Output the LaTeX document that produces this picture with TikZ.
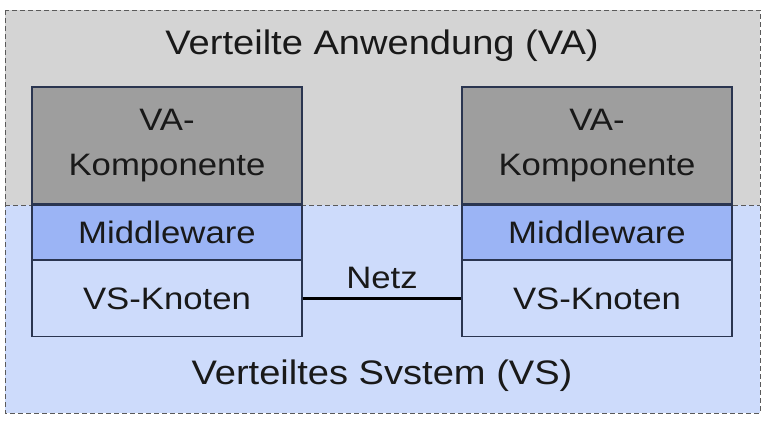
\documentclass[tikz,border=0pt]{standalone}
\usepackage{fontspec}
\setmainfont{Liberation Sans}[FakeStretch=1.12]
\usetikzlibrary{positioning}
\definecolor{vagray}{HTML}{D4D4D4}
\definecolor{compgray}{HTML}{9E9E9E}
\definecolor{mwblue}{HTML}{9BB4F5}
\definecolor{vsblue}{HTML}{CDDBFB}
\definecolor{edgeblue}{HTML}{2A3550}
\definecolor{dashgray}{HTML}{5A5A5A}
\begin{document}
\begin{tikzpicture}[
            x=1pt, y=-1pt,
            every node/.style={font=\fontsize{31}{45}\selectfont, text=black!90},
            layer/.style={draw=edgeblue, line width=1.3pt, minimum width=270pt, inner sep=0pt, align=center},
            comp/.style={layer, fill=compgray, minimum height=117pt},
            mware/.style={layer, fill=mwblue, minimum height=54pt},
            knoten/.style={layer, fill=vsblue, minimum height=76pt},
            region/.style={draw=dashgray, dash pattern=on 5pt off 3pt, line width=0.9pt},
            titel/.style={font=\fontsize{34}{40}\selectfont}
            ]
            \useasboundingbox (0,0) rectangle (771,426);
            % Bereiche
            \fill[vagray] (5,10) rectangle (760,205);
            \fill[vsblue] (5,205) rectangle (760,413);
            \draw[region] (5,10) rectangle (760,413);
            \draw[region] (5,205) -- (760,205);

            \node[titel] (vatitle) at (382,46) {Verteilte Anwendung (VA)};
            \node[titel] (vstitle) at (382,376) {Verteiltes Svstem (VS)};

            % linker Knoten
            \node[comp] (compleft) at (167,145.5) {VA-\\Komponente};
            \node[mware, below=0pt of compleft] (mwleft) {Middleware};
            \node[knoten, below=0pt of mwleft] (knleft) {VS-Knoten};

            % rechter Knoten
            \node[comp] (compright) at (597,145.5) {VA-\\Komponente};
            \node[mware, below=0pt of compright] (mwright) {Middleware};
            \node[knoten, below=0pt of mwright] (knright) {VS-Knoten};

            \draw[line width=3.5pt] (knleft) -- node[above=5pt] (netz) {Netz} (knright);
        \end{tikzpicture}
\end{document}
